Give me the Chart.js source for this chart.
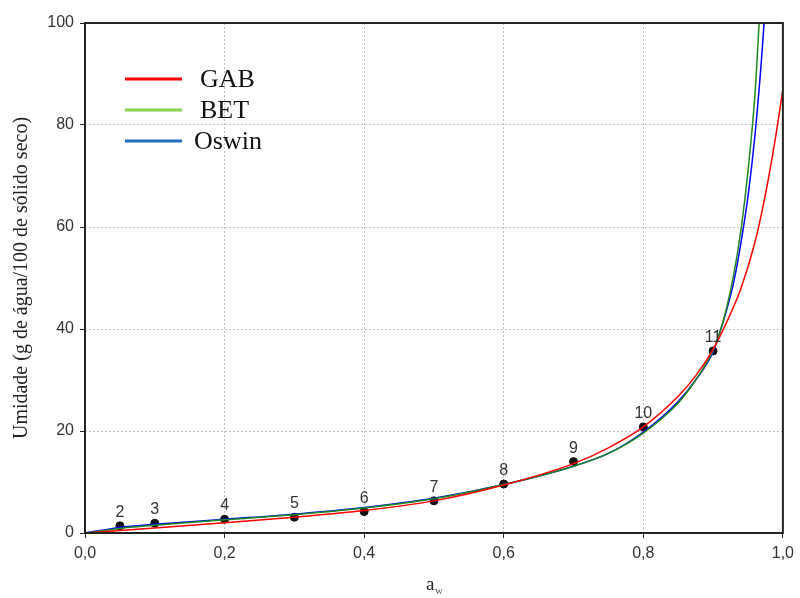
<!DOCTYPE html>
<html>
<head>
<meta charset="utf-8">
<script src="https://cdn.jsdelivr.net/npm/chart.js@4"></script>
<style>
  html, body { margin: 0; padding: 0; background: #fff; }
  #wrap { width: 800px; height: 598px; }
</style>
</head>
<body>
<div id="wrap"><canvas id="myChart" width="800" height="598"></canvas></div>
<script>
// pontos experimentais
var awPoints = [0.05, 0.1, 0.2, 0.3, 0.4, 0.5, 0.6, 0.7, 0.8, 0.9];
var umidadePoints = [1.4, 1.9, 2.7, 3.1, 4.2, 6.3, 9.6, 14.0, 20.8, 35.7];
var pointLabels = ['2', '3', '4', '5', '6', '7', '8', '9', '10', '11'];

// curvas dos modelos
var gabX = [0, 0.05, 0.1, 0.2, 0.3, 0.4, 0.5, 0.6, 0.7, 0.75, 0.8, 0.85, 0.875, 0.9, 0.92, 0.94, 0.96, 0.97, 0.98, 0.99, 1.0];
var gabY = [0, 0.5, 1.0, 2.0, 3.1, 4.4, 6.3, 9.4, 13.6, 16.7, 20.8, 26.8, 30.8, 36.0, 41.5, 48, 57, 63, 70, 78, 87];
var betX = [0, 0.05, 0.1, 0.2, 0.3, 0.4, 0.5, 0.6, 0.7, 0.75, 0.8, 0.85, 0.875, 0.9, 0.91, 0.92, 0.93, 0.94, 0.95, 0.96, 0.966];
var betY = [0, 0.9, 1.5, 2.6, 3.6, 4.9, 6.7, 9.5, 13.1, 15.6, 19.6, 25.5, 30, 35.8, 39.5, 44.5, 51, 59.5, 71, 86, 100];
var oswinX = [0, 0.05, 0.1, 0.2, 0.3, 0.4, 0.5, 0.6, 0.7, 0.75, 0.8, 0.85, 0.875, 0.9, 0.91, 0.92, 0.93, 0.94, 0.95, 0.96, 0.97, 0.973];
var oswinY = [0, 1.1, 1.7, 2.7, 3.7, 5.0, 6.8, 9.5, 13.1, 15.6, 19.8, 25.8, 30, 35.5, 39.5, 44, 49.5, 57, 66, 78, 94, 100];

var xTicks = [0, 0.2, 0.4, 0.6, 0.8, 1.0];
var yTicks = [0, 20, 40, 60, 80, 100];

function toXY(xs, ys) {
    return xs.map(function (x, i) { return { x: x, y: ys[i] }; });
}

var legendColors = ['#ff0000', '#8cd152', '#1f6fc0'];

// legenda, rotulos dos pontos, titulos e moldura
var extras = {
    id: 'extras',
    afterDatasetsDraw: function (chart) {
        var ctx = chart.ctx;
        var a = chart.chartArea;
        ctx.save();

        // rotulos dos pontos
        var meta = chart.getDatasetMeta(3);
        ctx.font = '16px "Liberation Sans", Arial, sans-serif';
        ctx.fillStyle = '#333';
        ctx.textAlign = 'center';
        ctx.textBaseline = 'alphabetic';
        meta.data.forEach(function (p, i) {
            ctx.fillText(pointLabels[i], p.x, p.y - 9);
        });

        // legenda
        ctx.font = '26px "Liberation Serif", "Times New Roman", serif';
        ctx.textAlign = 'left';
        ctx.textBaseline = 'middle';
        for (var i = 0; i < 3; i++) {
            var yy = 79 + i * 31;
            ctx.strokeStyle = legendColors[i];
            ctx.lineWidth = 3;
            ctx.beginPath();
            ctx.moveTo(125, yy);
            ctx.lineTo(182, yy);
            ctx.stroke();
            ctx.fillStyle = '#111';
            ctx.fillText(chart.data.datasets[i].label, i == 2 ? 194 : 200, yy + 1);
        }

        // moldura
        ctx.strokeStyle = '#222';
        ctx.lineWidth = 2;
        ctx.strokeRect(a.left, a.top, a.right - a.left, a.bottom - a.top);

        // titulo eixo x: a_w
        ctx.fillStyle = '#222';
        ctx.textAlign = 'left';
        ctx.textBaseline = 'alphabetic';
        ctx.font = '19px "Liberation Serif", "Times New Roman", serif';
        ctx.fillText('a', 426, 590);
        ctx.font = '11px "Liberation Serif", "Times New Roman", serif';
        ctx.fillStyle = '#556';
        ctx.fillText('w', 435, 594);

        // titulo eixo y
        ctx.translate(22, 278);
        ctx.rotate(-Math.PI / 2);
        ctx.textAlign = 'center';
        ctx.textBaseline = 'middle';
        ctx.fillStyle = '#222';
        ctx.font = '20px "Liberation Serif", "Times New Roman", serif';
        ctx.fillText('Umidade (g de água/100 de sólido seco)', 0, 0);
        ctx.restore();
    }
};

var ctx = document.getElementById('myChart').getContext('2d');

var myChart = new Chart(ctx, {
    type: 'line',
    data: {
        datasets: [{
            label: 'GAB',
            data: toXY(gabX, gabY),
            borderColor: '#ff0000',
            borderWidth: 1.5,
            pointRadius: 0,
            cubicInterpolationMode: 'monotone'
        }, {
            label: 'BET',
            data: toXY(betX, betY),
            borderColor: '#1f8a1f',
            borderWidth: 1.5,
            pointRadius: 0,
            cubicInterpolationMode: 'monotone'
        }, {
            label: 'Oswin',
            data: toXY(oswinX, oswinY),
            borderColor: '#0000ff',
            borderWidth: 1.5,
            pointRadius: 0,
            cubicInterpolationMode: 'monotone'
        }, {
            label: 'Experimental',
            data: toXY(awPoints, umidadePoints),
            showLine: false,
            pointRadius: 4,
            pointBackgroundColor: '#111',
            pointBorderColor: '#111'
        }]
    },
    options: {
        responsive: false,
        animation: false,
        layout: { padding: { top: 23, right: 12, left: 0, bottom: 0 } },
        plugins: {
            legend: { display: false },
            tooltip: { enabled: false }
        },
        scales: {
            x: {
                type: 'linear',
                min: 0,
                max: 1,
                afterFit: function (s) { s.height = 65; },
                afterBuildTicks: function (s) { s.ticks = xTicks.map(function (v) { return { value: v }; }); },
                ticks: {
                    color: '#333',
                    padding: 6,
                    font: { family: '"Liberation Sans", Arial, sans-serif', size: 16 },
                    callback: function (v) { return v.toFixed(1).replace('.', ','); }
                },
                grid: {
                    color: '#c0c0c0',
                    tickColor: '#222',
                    tickLength: 5,
                    tickBorderDash: []
                },
                border: { display: false, dash: [2, 2] }
            },
            y: {
                min: 0,
                max: 100,
                afterFit: function (s) { s.width = 85; },
                afterBuildTicks: function (s) { s.ticks = yTicks.map(function (v) { return { value: v }; }); },
                ticks: {
                    color: '#333',
                    padding: 6,
                    font: { family: '"Liberation Sans", Arial, sans-serif', size: 16 }
                },
                grid: {
                    color: '#c0c0c0',
                    tickColor: '#222',
                    tickLength: 5,
                    tickBorderDash: []
                },
                border: { display: false, dash: [2, 2] }
            }
        }
    },
    plugins: [extras]
});
</script>
</body>
</html>
